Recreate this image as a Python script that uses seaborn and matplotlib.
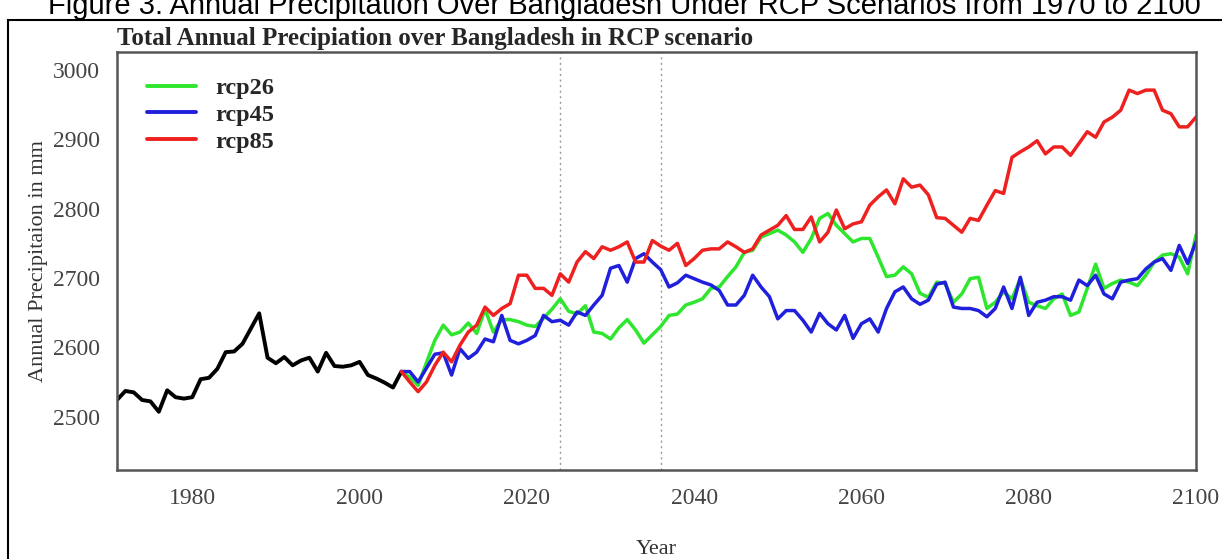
import numpy as np
import pandas as pd
import matplotlib
matplotlib.use("Agg")
import matplotlib.pyplot as plt
from matplotlib.patches import Rectangle
import seaborn as sns

# ---------------- data ----------------
hist_years = list(range(1971, 2006))
hist_values = [2524, 2537, 2535, 2524, 2522, 2507, 2538, 2528, 2526, 2528,
               2554, 2556, 2569, 2593, 2594, 2605, 2627, 2649, 2585, 2577,
               2586, 2574, 2581, 2585, 2565, 2592, 2573, 2572, 2574, 2579,
               2560, 2555, 2549, 2542, 2565]

rcp_years = list(range(2005, 2101))
rcp26 = [2565,
         2557, 2545, 2578, 2610, 2632, 2618, 2622, 2635, 2620, 2655,
         2622, 2640, 2640, 2637, 2632, 2630, 2642, 2655, 2670, 2652,
         2648, 2660, 2622, 2620, 2612, 2628, 2640, 2625, 2606, 2618,
         2630, 2646, 2648, 2661, 2665, 2670, 2685, 2687, 2702, 2716,
         2737, 2740, 2759, 2764, 2769, 2762, 2752, 2737, 2757, 2786,
         2793, 2776, 2764, 2752, 2757, 2757, 2730, 2702, 2704, 2716,
         2706, 2678, 2672, 2694, 2692, 2665, 2677, 2699, 2701, 2656,
         2665, 2680, 2670, 2699, 2665, 2660, 2656, 2670, 2677, 2646,
         2651, 2685, 2720, 2685, 2692, 2697, 2694, 2689, 2704, 2723,
         2733, 2735, 2730, 2706, 2762]
rcp45 = [2565,
         2565, 2550, 2570, 2590, 2592, 2560, 2598, 2584, 2593, 2612,
         2608, 2646, 2610, 2605, 2610, 2617, 2646, 2637, 2639, 2632,
         2651, 2646, 2661, 2675, 2714, 2718, 2694, 2728, 2735, 2723,
         2712, 2687, 2693, 2704, 2699, 2694, 2690, 2682, 2661, 2661,
         2675, 2704, 2687, 2673, 2641, 2653, 2653, 2639, 2622, 2649,
         2634, 2625, 2646, 2613, 2634, 2641, 2622, 2656, 2680, 2687,
         2670, 2662, 2668, 2691, 2694, 2658, 2656, 2656, 2653, 2644,
         2656, 2687, 2656, 2701, 2646, 2665, 2668, 2673, 2673, 2668,
         2697, 2689, 2704, 2677, 2670, 2694, 2697, 2699, 2713, 2723,
         2728, 2711, 2747, 2721, 2752]
rcp85 = [2565,
         2550, 2536, 2550, 2574, 2593, 2579, 2603, 2622, 2632, 2658,
         2646, 2656, 2663, 2704, 2704, 2685, 2685, 2675, 2706, 2694,
         2723, 2738, 2728, 2745, 2740, 2745, 2752, 2723, 2723, 2754,
         2746, 2740, 2750, 2718, 2728, 2740, 2742, 2742, 2752, 2745,
         2737, 2742, 2762, 2769, 2776, 2790, 2770, 2770, 2788, 2752,
         2766, 2798, 2771, 2778, 2781, 2805, 2817, 2827, 2807, 2843,
         2831, 2834, 2820, 2787, 2786, 2776, 2766, 2786, 2783, 2805,
         2826, 2822, 2874, 2882, 2889, 2898, 2879, 2889, 2889, 2877,
         2894, 2911, 2903, 2925, 2932, 2942, 2971, 2966, 2971, 2971,
         2942, 2937, 2918, 2918, 2932]

scenarios = ["rcp26", "rcp45", "rcp85"]
period_marks = [2024, 2036]
x_ticks = [1980, 2000, 2020, 2040, 2060, 2080, 2100]
y_ticks = [2500, 2600, 2700, 2800, 2900, 3000]

title = "Total Annual Precipiation over Bangladesh in RCP scenario"
caption = "Figure 3. Annual Precipitation Over Bangladesh Under RCP Scenarios from 1970 to 2100"
xlabel = "Year"
ylabel = "Annual Precipitaion in mm"

# ---------------- tables ----------------
hist_df = pd.DataFrame({"year": hist_years, "value": hist_values})
rcp_df = pd.concat([
    pd.DataFrame({"year": rcp_years, "value": vals, "scenario": name})
    for name, vals in zip(scenarios, [rcp26, rcp45, rcp85])
], ignore_index=True)

# ---------------- style ----------------
sns.set_style("white")
plt.rcParams["font.family"] = ["Liberation Serif", "DejaVu Serif"]

W, H = 1222, 559
fig = plt.figure(figsize=(W / 100, H / 100), dpi=100)
ax = fig.add_axes([117 / W, 1 - 470 / H, (1196 - 117) / W, (470 - 52) / H])

palette = {"rcp26": "#2ee62e", "rcp45": "#1f1fdc", "rcp85": "#ee2020"}

sns.lineplot(data=hist_df, x="year", y="value", color="black", lw=2.8,
             ax=ax, legend=False)
sns.lineplot(data=rcp_df, x="year", y="value", hue="scenario",
             hue_order=scenarios, palette=palette, lw=2.5, ax=ax)

for yr in period_marks:
    ax.axvline(yr, color="#999999", ls=(0, (1.5, 2.5)), lw=1.0, zorder=0)

ax.set_xlim(1971, 2100)
ax.set_ylim(2423, 3026)
ax.set_xticks(x_ticks)
ax.set_yticks(y_ticks)
ax.tick_params(axis="both", direction="in", labelsize=17, colors="#444444",
               width=1.4)
ax.tick_params(axis="y", length=11, pad=12)
ax.tick_params(axis="x", length=8, pad=13)
for s in ax.spines.values():
    s.set_color("#555555")
    s.set_linewidth(1.8)

ax.set_xlabel(xlabel, fontsize=16, color="#333333", labelpad=22)
ax.set_ylabel(ylabel, fontsize=16, color="#333333", labelpad=4)
ax.set_title(title, loc="left", fontsize=18, fontweight="bold", pad=5)

leg = ax.legend(loc="upper left", bbox_to_anchor=(0.028, 0.94), frameon=False,
                borderpad=0, borderaxespad=0, handlelength=2.0,
                handletextpad=0.8, labelspacing=0.2,
                prop={"family": ["Liberation Serif"], "weight": "bold", "size": 17.5})
for line in leg.get_lines():
    line.set_linewidth(2.8)

# outer border and cut caption
fig.patches.append(Rectangle((8 / W, -0.05), 1.2, 1.05 - 20 / H,
                             transform=fig.transFigure, fill=False,
                             edgecolor="black", lw=1.5))
fig.text(48 / W, 1 - 14 / H, caption, fontsize=21, ha="left", va="baseline",
         family=["Liberation Sans", "DejaVu Sans"], color="black")

fig.savefig("out.png", dpi=100)
